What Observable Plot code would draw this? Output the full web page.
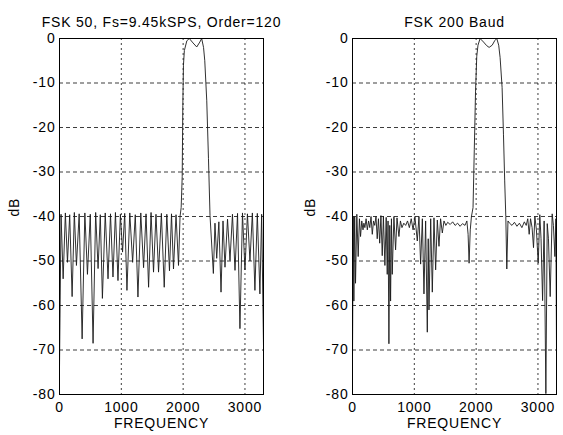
<!DOCTYPE html>
<html>
<head>
<meta charset="utf-8">
<script src="https://cdn.jsdelivr.net/npm/d3@7"></script>
<script src="https://cdn.jsdelivr.net/npm/@observablehq/plot@0.6"></script>
<style>
  html, body { margin: 0; padding: 0; background: #fff; }
  #wrap { display: flex; flex-direction: row; width: 563px; height: 435px; }
  #wrap svg:first-child { position: relative; z-index: 1; }
</style>
</head>
<body>
<div id="wrap"></div>
<script>
// Tick values
const xTicks = [0, 1000, 2000, 3000];
const yTicks = [0, -10, -20, -30, -40, -50, -60, -70, -80];

// Titles
const title1 = "FSK 50, Fs=9.45kSPS, Order=120";
const title2 = "FSK 200 Baud";
const xLabel = "FREQUENCY";
const yLabel = "dB";

// Panel 1: frequency (Hz) and magnitude (dB)
const freq1 = [
  0, 25, 59, 95, 129, 165, 204, 240, 274, 318, 366, 410, 452, 498, 543, 585, 624, 660, 694, 740,
  785, 825, 865, 905, 946, 985, 1020, 1055, 1091, 1137, 1183, 1226, 1269, 1315, 1360, 1400, 1441, 1481, 1521, 1561,
  1602, 1648, 1694, 1736, 1779, 1812, 1844, 1885, 1925, 1950, 1968, 1985, 1995, 2005, 2020, 2060, 2100, 2160, 2220, 2270,
  2300, 2330, 2350, 2382, 2410, 2435, 2489, 2515, 2543, 2578, 2613, 2645, 2677, 2718, 2758, 2798, 2839, 2880, 2919, 2960,
  3000, 3040, 3081, 3120, 3161, 3200, 3242, 3270, 3300
];
const db1 = [
  -74, -39.5, -54, -39.2, -50.3, -39.6, -58, -39.1, -51, -39.4, -67.5, -39.2, -53, -39.5, -68.5, -39.1, -51.7, -39.6, -58.4, -39.2,
  -54, -39.4, -53.6, -39.1, -54.4, -39.5, -48, -39.3, -56.6, -39.2, -50.3, -39.6, -58.1, -39.2, -51.5, -39.4, -55.9, -39.1, -52.5, -39.5,
  -52.5, -39.3, -55.9, -39.5, -52.2, -39.4, -51.8, -39.6, -51, -40, -38, -31, -15, -6, -2.7, -0.5, 0, -1, -1.9, -0.8,
  0, -2, -5, -14, -27, -39.8, -52.8, -41.5, -49.4, -41.2, -57, -41, -51.4, -40.6, -49.9, -39.5, -52.1, -39.3, -65.2, -39.2,
  -52, -39.4, -50, -39.2, -56.6, -39.3, -57.4, -39.5, -69
];

// Panel 2: frequency (Hz) and magnitude (dB)
const freq2 = [
  0, 12, 22, 35, 49, 70, 92, 112, 130, 150, 170, 184, 200, 220, 240, 260, 280, 300, 320, 340,
  360, 380, 400, 420, 440, 460, 481, 500, 524, 545, 562, 575, 589, 603, 616, 630, 643, 670, 697, 720,
  751, 775, 800, 830, 860, 890, 920, 950, 980, 1010, 1048, 1075, 1102, 1130, 1156, 1183, 1210, 1225, 1237, 1265,
  1291, 1318, 1345, 1372, 1399, 1425, 1453, 1480, 1510, 1540, 1580, 1620, 1660, 1700, 1740, 1780, 1820, 1850, 1870, 1886,
  1905, 1924, 1950, 1970, 1990, 2010, 2030, 2064, 2120, 2170, 2210, 2260, 2300, 2334, 2365, 2388, 2420, 2442, 2462, 2480,
  2496, 2515, 2540, 2580, 2620, 2660, 2700, 2740, 2780, 2810, 2835, 2858, 2880, 2905, 2928, 2950, 2975, 3004, 3030, 3050,
  3075, 3100, 3128, 3150, 3170, 3198, 3230, 3250, 3274, 3290, 3300
];
const db2 = [
  -72, -40, -59, -40, -55, -39.5, -49, -40.5, -44.5, -41, -43, -41.5, -42.5, -40.5, -43, -41, -42.5, -40, -44, -41,
  -42, -40, -45, -40.5, -46, -39.8, -48.8, -40, -51, -40.2, -53, -41, -68.6, -42, -59, -40.5, -53, -40, -47.5, -40.3,
  -44.5, -41, -42.5, -41.5, -42, -41, -42.5, -40.5, -43, -40, -45.5, -40, -50.7, -40.5, -57.4, -41, -66, -45, -61, -40.5,
  -57, -40.3, -52, -40.8, -46.7, -40.5, -43.7, -41, -42, -41.3, -41.8, -41.2, -42, -41.5, -42.2, -41.6, -42, -41, -44, -50.5,
  -43, -40, -38, -25, -12, -4, -1.5, 0, -0.8, -1.6, -2, -1.5, -0.5, 0, -1.5, -4.3, -11, -21.5, -32, -40,
  -51.8, -41, -41.5, -42, -41.3, -42.2, -41.5, -42.5, -41.2, -42, -40.5, -44, -40.5, -42.5, -47, -40, -43, -50.5, -39.6, -45,
  -58.9, -41, -79.8, -41.6, -45, -58, -39.4, -42, -49, -40.5, -70
];

const fontFamily = "'Liberation Sans', Arial, Helvetica, sans-serif";

function panel(freq, db, title, width, ml, mr, dbDx) {
  const data = freq.map((f, i) => ({f, v: db[i]}));
  return Plot.plot({
    width, height: 435,
    marginLeft: ml, marginRight: mr, marginTop: 38, marginBottom: 41,
    style: {fontSize: "14px", fontFamily, color: "#000", background: "transparent", overflow: "visible", letterSpacing: "0.8px"},
    x: {domain: [0, 3300], ticks: xTicks, tickSize: 0, tickPadding: 8, label: null, tickFormat: d => String(d)},
    y: {domain: [-80, 0], ticks: yTicks, tickSize: 0, tickPadding: 4, label: null, tickFormat: d => String(d)},
    marks: [
      Plot.gridX(xTicks, {stroke: "#000", strokeOpacity: 0.85, strokeWidth: 0.9, strokeDasharray: "2,3"}),
      Plot.gridY(yTicks, {stroke: "#000", strokeOpacity: 0.85, strokeWidth: 0.9, strokeDasharray: "4,3"}),
      Plot.line(data, {x: "f", y: "v", stroke: "#1a1a1a", strokeWidth: 0.9, clip: true}),
      Plot.frame({stroke: "#000", strokeWidth: 1}),
      Plot.text([title], {frameAnchor: "top", dy: -21.5, fontSize: 14}),
      Plot.text([xLabel], {frameAnchor: "bottom", dy: 33, fontSize: 14}),
      Plot.text([yLabel], {frameAnchor: "left", dx: dbDx, rotate: -90, fontSize: 14})
    ]
  });
}

const wrap = document.getElementById("wrap");
wrap.appendChild(panel(freq1, db1, title1, 282, 59, 19, -45));
wrap.appendChild(panel(freq2, db2, title2, 281, 70, 7, -42));
</script>
</body>
</html>
